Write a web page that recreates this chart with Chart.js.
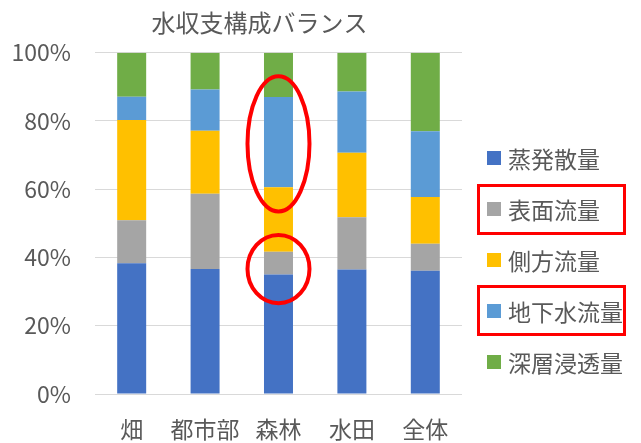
<!DOCTYPE html>
<html>
<head>
<meta charset="utf-8">
<script src="https://cdn.jsdelivr.net/npm/chart.js@4"></script>
<style>
  body { margin: 0; background: #fff; }
  #wrap { position: relative; width: 641px; height: 443px; }
  #legend { position: absolute; left: 477px; top: 133px; width: 149px; font-family: 'Noto Sans CJK JP', 'Noto Sans', sans-serif; font-size: 23px; color: #595959; }
  .item { box-sizing: border-box; height: 50.8px; padding-left: 7px; display: flex; align-items: center; border: 3px solid transparent; white-space: nowrap; }
  .item.boxed { border-color: #FF0000; }
  .sw { width: 14px; height: 14px; margin-right: 7px; flex: none; }
</style>
</head>
<body>
<div id="wrap">
  <canvas id="myChart" width="641" height="443"></canvas>
  <div id="legend"></div>
</div>
<script>
const categories = ['畑', '都市部', '森林', '水田', '全体'];
const seriesNames = ['蒸発散量', '表面流量', '側方流量', '地下水流量', '深層浸透量'];
const evap = [38.3, 36.6, 35.0, 36.5, 36.1];
const surface = [12.6, 22.1, 6.7, 15.3, 7.9];
const lateral = [29.4, 18.4, 18.9, 18.9, 13.7];
const groundwater = [6.8, 12.1, 26.4, 17.9, 19.3];
const deep = [12.9, 10.8, 13.0, 11.4, 23.0];
const yTicks = [0, 20, 40, 60, 80, 100];
const colors = ['#4472C4', '#A5A5A5', '#FFC000', '#5B9BD5', '#70AD47'];

// red marks: ellipses on the 森林 bar (value ranges), boxes round legend items
const ellipses = [[53.5, 93.1], [26.6, 46.6]];
const boxedLegend = [1, 3];

const FONT = "'Noto Sans CJK JP', 'Noto Sans', sans-serif";
const GREY = '#595959';

const marks = {
  id: 'marks',
  afterDraw(chart) {
    const ctx = chart.ctx;
    const area = chart.chartArea;
    ctx.save();
    // title
    ctx.fillStyle = GREY;
    ctx.font = '24px ' + FONT;
    ctx.textAlign = 'center';
    ctx.textBaseline = 'middle';
    ctx.fillText('水収支構成バランス', (area.left + area.right) / 2 - 19, 23);

    ctx.strokeStyle = '#FF0000';
    ctx.lineWidth = 4;
    let cx = chart.scales.x.getPixelForValue(2);
    ellipses.forEach(e => {
      let y1 = chart.scales.y.getPixelForValue(e[1]);
      let y0 = chart.scales.y.getPixelForValue(e[0]);
      ctx.beginPath();
      ctx.ellipse(cx, (y0 + y1) / 2, 31, (y0 - y1) / 2, 0, 0, Math.PI * 2);
      ctx.stroke();
    });
    ctx.restore();
  }
};

// html legend from the datasets
const htmlLegend = {
  id: 'htmlLegend',
  afterUpdate(chart) {
    const box = document.getElementById('legend');
    box.innerHTML = '';
    chart.data.datasets.forEach((ds, i) => {
      const item = document.createElement('div');
      item.className = 'item' + (boxedLegend.includes(i) ? ' boxed' : '');
      const sw = document.createElement('span');
      sw.className = 'sw';
      sw.style.background = ds.backgroundColor;
      const txt = document.createElement('span');
      txt.textContent = ds.label;
      item.appendChild(sw);
      item.appendChild(txt);
      box.appendChild(item);
    });
  }
};

const ctx = document.getElementById('myChart').getContext('2d');
const myChart = new Chart(ctx, {
  type: 'bar',
  data: {
    labels: categories,
    datasets: [evap, surface, lateral, groundwater, deep].map((d, i) => ({
      label: seriesNames[i],
      data: d,
      backgroundColor: colors[i],
      borderWidth: 0,
      categoryPercentage: 1,
      barPercentage: 0.395
    }))
  },
  options: {
    responsive: false,
    animation: false,
    // axis boxes count tick padding twice, so the outer padding goes negative
    layout: { padding: { top: 52.7, left: -12.5, right: 179, bottom: -20.6 } },
    plugins: {
      title: { display: false },
      tooltip: { enabled: false },
      legend: { display: false }
    },
    scales: {
      x: {
        stacked: true,
        grid: { display: false, drawTicks: false },
        border: { display: false },
        ticks: { color: GREY, font: { family: FONT, size: 23 }, padding: 21, maxRotation: 0, autoSkip: false }
      },
      y: {
        stacked: true,
        min: 0,
        max: 100,
        afterBuildTicks: axis => { axis.ticks = yTicks.map(v => ({ value: v })); },
        grid: { color: '#D9D9D9', drawTicks: false },
        border: { display: false },
        ticks: { color: GREY, font: { family: FONT, size: 23 }, padding: 24, callback: v => v + '%' }
      }
    }
  },
  plugins: [marks, htmlLegend]
});
</script>
</body>
</html>
